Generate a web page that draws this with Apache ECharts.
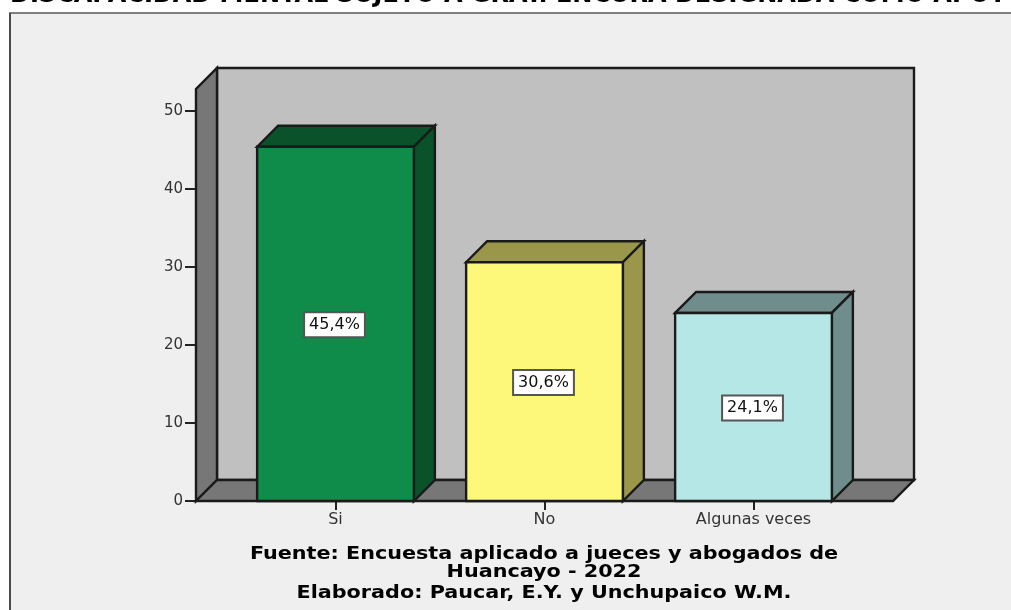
<!DOCTYPE html>
<html>
<head>
<meta charset="utf-8">
<style>
  html, body { margin: 0; padding: 0; background: #fff; }
  #chart { width: 1011px; height: 610px; }
</style>
</head>
<body>
<div id="chart"></div>
<script src="https://cdn.jsdelivr.net/npm/echarts@6/dist/echarts.min.js"></script>
<script>
var categories = ['Si', 'No', 'Algunas veces'];
var percents = [45.4, 30.6, 24.1];
var yTicks = [0, 10, 20, 30, 40, 50];
var clippedTitle = 'DISCAPACIDAD MENTAL SUJETO A GRAT. ENCURA DESIGNADA COMO APOY';
var captionLines = [
  'Fuente: Encuesta aplicado a jueces y abogados de',
  'Huancayo - 2022',
  'Elaborado: Paucar, E.Y. y Unchupaico W.M.'
];
var captionY = [554, 572, 593];

var faceColors = ['#0f8c49', '#fdf87a', '#b5e7e7'];
var darkColors = ['#0a5229', '#9b974a', '#6f8d8d'];
var edge = '#1a1a1a';
var depth = 21;      // 3d offset of the box, px
var sidePad = 35;    // front floor runs past the category band by this much

var chart = echarts.init(document.getElementById('chart'));

function poly(points, fill) {
  return {
    type: 'polygon',
    shape: { points: points },
    style: { fill: fill, stroke: edge, lineWidth: 2.4, lineJoin: 'miter' }
  };
}

// walls and floor of the box
function renderBox(params, api) {
  var sys = params.coordSys;
  var x0 = sys.x - sidePad;
  var x1 = sys.x + sys.width + sidePad;
  var yTop = sys.y;
  var yBase = sys.y + sys.height;
  return {
    type: 'group',
    children: [
      poly([[x0 + depth, yTop - depth], [x1 + depth, yTop - depth], [x1 + depth, yBase - depth], [x0 + depth, yBase - depth]], '#c0c0c0'),
      poly([[x0, yBase], [x0, yTop], [x0 + depth, yTop - depth], [x0 + depth, yBase - depth]], '#777777'),
      poly([[x0, yBase], [x1, yBase], [x1 + depth, yBase - depth], [x0 + depth, yBase - depth]], '#777777')
    ]
  };
}

function renderBar(params, api) {
  var i = api.value(0);
  var base = api.coord([i, 0]);
  var top = api.coord([i, api.value(1)]);
  var half = api.size([1, 0])[0] * 0.75 / 2;
  var l = base[0] - half;
  var r = base[0] + half;
  return {
    type: 'group',
    children: [
      poly([[l, top[1]], [l + depth, top[1] - depth], [r + depth, top[1] - depth], [r, top[1]]], darkColors[i]),
      poly([[r, top[1]], [r + depth, top[1] - depth], [r + depth, base[1] - depth], [r, base[1]]], darkColors[i]),
      poly([[l, base[1]], [l, top[1]], [r, top[1]], [r, base[1]]], faceColors[i]),
      {
        type: 'text',
        z2: 10,
        style: {
          x: base[0] - 1,
          y: (base[1] + top[1]) / 2 + 1,
          text: api.value(1).toFixed(1).replace('.', ',') + '%',
          align: 'center',
          verticalAlign: 'middle',
          fill: '#111',
          font: '16px "DejaVu Sans"',
          backgroundColor: '#fff',
          borderColor: '#555',
          borderWidth: 2,
          padding: [4, 4, 3, 4]
        }
      }
    ]
  };
}

var frameLines = [
  { type: 'rect', z: -1, shape: { x: 10, y: 13, width: 1100, height: 700 }, style: { fill: '#efefef', stroke: '#808080', lineWidth: 2 } },
  { type: 'line', z: -1, shape: { x1: 10, y1: 13, x2: 10, y2: 610 }, style: { stroke: '#4a4a4a', lineWidth: 2 } }
];
var titleText = {
  type: 'text',
  x: 10,
  y: -16,
  style: { text: clippedTitle, fill: '#000', font: 'bold 24px "DejaVu Sans"' }
};
var captionTexts = captionLines.map(function (line, i) {
  return {
    type: 'text',
    x: 544,
    y: captionY[i],
    scaleX: 1.12,
    style: {
      text: line,
      fill: '#000',
      align: 'center',
      verticalAlign: 'middle',
      font: 'bold 18.5px "DejaVu Sans"'
    }
  };
});

var option = {
  animation: false,
  backgroundColor: '#fff',
  grid: { left: 231, right: 153, top: 89, bottom: 109 },
  graphic: frameLines.concat([titleText], captionTexts),
  xAxis: {
    type: 'category',
    data: categories,
    axisLine: { show: false },
    axisTick: { show: true, alignWithLabel: true, length: 9, lineStyle: { color: '#222', width: 2 } },
    axisLabel: { color: '#333', fontFamily: 'DejaVu Sans', fontSize: 16, margin: 11 }
  },
  yAxis: {
    type: 'value',
    min: 0,
    max: 52.8,
    offset: sidePad,
    splitLine: { show: false },
    axisLine: { show: false },
    axisTick: { show: true, length: 11, customValues: yTicks, lineStyle: { color: '#222', width: 2 } },
    axisLabel: { color: '#333', fontFamily: 'DejaVu Sans', fontSize: 15, margin: 13, customValues: yTicks }
  },
  series: [
    {
      type: 'custom',
      renderItem: renderBox,
      data: [[0, 0]],
      silent: true,
      z: 1
    },
    {
      type: 'custom',
      renderItem: renderBar,
      encode: { x: 0, y: 1 },
      data: percents.map(function (p, i) { return [i, p]; }),
      z: 3
    }
  ]
};
chart.setOption(option);
</script>
</body>
</html>
